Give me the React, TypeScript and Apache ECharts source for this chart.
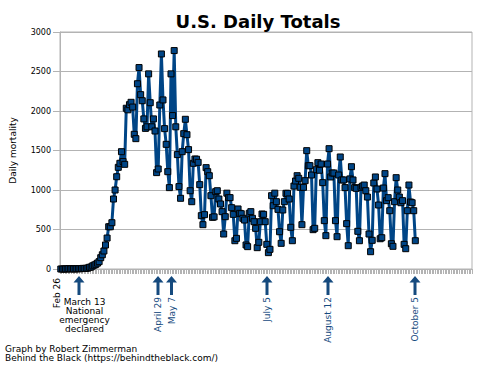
import React, { useEffect, useRef } from "react";
import * as echarts from "echarts";

const startDate = "2020-02-26";
const totalCategories = 258;
const firstLabel = "Feb 26";
const yTicks = [0, 500, 1000, 1500, 2000, 2500, 3000];

// Daily US deaths, Feb 26 .. Oct 5, 2020
const dailyDeaths = [
  0, 0, 0, 1, 1, 5, 1, 4, 1, 2, 3, 4, 4, 5, 8, 7, 9, 12, 22, 25,
  40, 50, 60, 75, 93, 143, 180, 228, 304, 392, 535, 535, 586, 886, 1000, 1168, 1287, 1338, 1485, 1360,
  1325, 2035, 2015, 2080, 2110, 2050, 1705, 1650, 2345, 2550, 2207, 2130, 1900, 1780, 1800, 2470, 2105, 1800, 1900, 1747,
  1220, 1266, 2076, 2722, 2140, 1777, 1578, 1232, 1030, 2470, 1942, 2765, 1800, 1448, 1043, 895, 1485, 1713, 1895, 1700,
  1511, 991, 852, 1338, 1392, 1390, 1350, 1068, 675, 561, 688, 1283, 1232, 1181, 928, 654, 660, 979, 991, 886,
  823, 726, 443, 662, 960, 903, 903, 776, 692, 358, 388, 760, 705, 700, 642, 620, 304, 283, 705, 726,
  642, 599, 515, 270, 338, 599, 696, 692, 599, 312, 207, 249, 928, 801, 960, 852, 755, 472, 325, 747,
  852, 958, 958, 886, 528, 358, 1050, 1114, 1181, 1148, 1034, 561, 1034, 1118, 1498, 1308, 1308, 1190, 498, 515,
  1257, 1346, 1250, 1329, 1093, 612, 422, 1329, 1523, 1165, 1215, 1215, 612, 409, 1190, 1418, 1127, 1127, 1030, 574,
  295, 1140, 1295, 1127, 1030, 1021, 477, 358, 1034, 1050, 1063, 991, 911, 443, 219, 363, 1089, 1165, 1013, 810,
  383, 396, 1025, 1207, 865, 903, 738, 320, 287, 852, 1156, 1000, 911, 839, 865, 312, 257, 738, 1063, 848,
  839, 738, 358,
];

const arrowNotes = [
  { x: 158, text: "April 29" },
  { x: 171.5, text: "May 7" },
  { x: 267, text: "July 5" },
  { x: 328, text: "August 12" },
  { x: 415, text: "October 5" },
];
const emergencyNote = { x: 79, lines: ["March 13", "National", "emergency", "declared"] };
const credits = ["Graph by Robert Zimmerman", "Behind the Black (https://behindtheblack.com/)"];

const BLUE = "#004586";
const ARROW = "#154a7e";
const GRAY = "#b3b3b3";
const FONT = "DejaVu Sans";

function buildCategories(): string[] {
  const out: string[] = [];
  const d = new Date(startDate + "T12:00:00Z");
  for (let i = 0; i < totalCategories; i++) {
    out.push(d.toISOString().slice(0, 10));
    d.setUTCDate(d.getUTCDate() + 1);
  }
  return out;
}

function arrow(x: number) {
  return {
    type: "polygon",
    shape: {
      points: [
        [x, 276],
        [x + 5.5, 282.5],
        [x + 1.5, 282.5],
        [x + 1.5, 295],
        [x - 1.5, 295],
        [x - 1.5, 282.5],
        [x - 5.5, 282.5],
      ],
    },
    style: { fill: ARROW },
    silent: true,
  };
}

export default function App() {
  const ref = useRef<HTMLDivElement>(null);
  useEffect(() => {
    if (!ref.current) return;
    const chart = echarts.init(ref.current, undefined, { renderer: "svg" });
    const categories = buildCategories();
    const graphics: any[] = [];
    // first date label, drawn under the first category
    graphics.push({
      type: "text",
      x: 57,
      y: 278,
      rotation: Math.PI / 2,
      style: { text: firstLabel, fill: "#000", font: `9px "${FONT}"`, align: "right", verticalAlign: "middle" },
    });
    graphics.push(arrow(emergencyNote.x));
    emergencyNote.lines.forEach((t, k) => {
      graphics.push({
        type: "text",
        x: emergencyNote.x + 5.5,
        y: 302 + k * 9,
        style: { text: t, fill: "#000", font: `9px "${FONT}"`, align: "center", verticalAlign: "middle" },
      });
    });
    arrowNotes.forEach((n) => {
      graphics.push(arrow(n.x));
      graphics.push({
        type: "text",
        x: n.x,
        y: 297,
        rotation: Math.PI / 2,
        style: { text: n.text, fill: ARROW, font: `9px "${FONT}"`, align: "right", verticalAlign: "middle" },
      });
    });
    credits.forEach((t, k) => {
      graphics.push({
        type: "text",
        x: 5,
        y: 348.5 + k * 9.5,
        style: { text: t, fill: "#000", font: `9px "${FONT}"`, align: "left", verticalAlign: "middle" },
      });
    });

    chart.setOption({
      animation: false,
      backgroundColor: "#fff",
      title: {
        text: "U.S. Daily Totals",
        left: 253,
        top: 7,
        textAlign: "center",
        textStyle: { fontFamily: FONT, fontWeight: "bold", fontSize: 18, color: "#000" },
      },
      grid: { left: 57, right: 28, top: 32, bottom: 97, show: true, borderColor: GRAY, borderWidth: 1 },
      xAxis: {
        type: "category",
        data: categories,
        boundaryGap: true,
        axisLine: { lineStyle: { color: GRAY, width: 1 } },
        axisTick: { show: true, interval: 0, length: 5, lineStyle: { color: GRAY, width: 1 } },
        axisLabel: { show: false },
        splitLine: { show: false },
      },
      yAxis: {
        type: "value",
        min: yTicks[0],
        max: yTicks[yTicks.length - 1],
        interval: 500,
        name: "Daily mortality",
        nameLocation: "middle",
        nameGap: 43,
        nameTextStyle: { fontFamily: FONT, fontSize: 9, color: "#000" },
        axisLine: { show: true, lineStyle: { color: GRAY } },
        axisTick: { show: true, length: 7, lineStyle: { color: GRAY } },
        axisLabel: {
          fontFamily: FONT,
          fontSize: 8,
          color: "#000",
          margin: 9,
          formatter: (v: number) => String(v),
        },
        splitLine: { show: true, lineStyle: { color: GRAY, width: 1 } },
      },
      series: [
        {
          type: "line",
          data: dailyDeaths,
          symbol: "rect",
          symbolSize: 6,
          showAllSymbol: true,
          lineStyle: { color: BLUE, width: 3 },
          itemStyle: { color: BLUE, borderColor: "#000", borderWidth: 1 },
          emphasis: { disabled: true },
        },
      ],
      graphic: graphics,
    });
    return () => chart.dispose();
  }, []);
  return (
    <div
      ref={ref}
      style={{ position: "fixed", left: 0, top: 0, width: 500, height: 366, background: "#fff" }}
    />
  );
}
